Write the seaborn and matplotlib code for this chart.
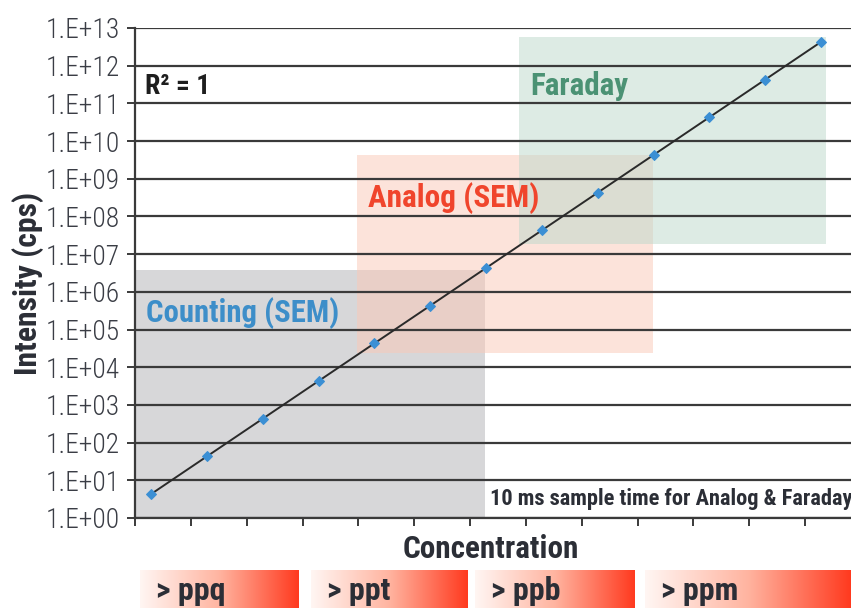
import os
import numpy as np
import pandas as pd
import matplotlib
matplotlib.use("Agg")
import matplotlib.pyplot as plt
import matplotlib.font_manager as fm
from matplotlib.font_manager import FontProperties
from matplotlib.colors import LinearSegmentedColormap
from matplotlib.patches import Rectangle
import seaborn as sns

# ---- data ----
step = list(range(13))
intensity = [4.3, 43, 430, 4.3e3, 4.3e4, 4.3e5, 4.3e6, 4.3e7, 4.3e8, 4.3e9, 4.3e10, 4.3e11, 4.3e12]
ytick_vals = [10.0 ** k for k in range(14)]
ytick_labels = ["1.E+%02d" % k for k in range(14)]
region_names = ["Counting (SEM)", "Analog (SEM)", "Faraday"]
region_x = [(-0.2865, 5.98), (3.69, 8.99), (6.59, 12.09)]
region_y = [(1.0, 3.8e6), (2.4e4, 4.3e9), (1.9e7, 5.9e12)]
range_labels = ["> ppq", "> ppt", "> ppb", "> ppm"]
range_px = [(140, 299), (311, 468), (475, 635), (645, 851)]

sns.set_theme(style="white")
plt.rcParams["font.family"] = ["DejaVu Sans"]


# ---- pick a condensed font if one is installed ----
def _find(bold):
    cands = []
    for f in fm.fontManager.ttflist:
        n = os.path.basename(f.fname).lower()
        if not ("condensed" in n or "narrow" in n):
            continue
        if "italic" in n or "oblique" in n:
            continue
        isb = "bold" in n and "semibold" not in n and "extrabold" not in n
        if bold != isb:
            continue
        score = 0
        if "roboto" in n:
            score += 3
        if "liberation" in n:
            score += 2
        if not bold and "light" in n:
            score += 1
        if not bold and ("thin" in n or "extralight" in n or "medium" in n or "semi" in n or "black" in n):
            score -= 5
        cands.append((score, f.fname))
    if cands:
        cands.sort(reverse=True)
        return FontProperties(fname=cands[0][1])
    return FontProperties(family=["Roboto", "DejaVu Sans"], weight="bold" if bold else "normal")


FP_B = _find(True)
FP_R = _find(False)
TXT = "#2b2e36"

W, H = 851, 608
fig = plt.figure(figsize=(W / 100, H / 100), dpi=100)
renderer = fig.canvas.get_renderer()


def fit_size(text, fp, target_w):
    p = fp.copy()
    p.set_size(20)
    t = fig.text(0, 0, text, fontproperties=p)
    w = t.get_window_extent(renderer).width
    t.remove()
    return 20 * target_w / w


def put(x, y, text, fp, target_w, color, **kw):
    p = fp.copy()
    p.set_size(fit_size(text, fp, target_w))
    return fig.text(x / W, 1 - y / H, text, fontproperties=p, color=color, **kw)


ax = fig.add_axes([135 / W, (H - 518) / H, (W - 135) / W, (518 - 28) / H])
ax.set_yscale("log")

fills = ["#b0b0b5", "#fbc9b6", "#bcd8cb"]
for (x0, x1), (y0, y1), c in zip(region_x, region_y, fills):
    ax.add_patch(Rectangle((x0, y0), x1 - x0, y1 - y0, facecolor=c, alpha=0.5,
                           edgecolor="none", zorder=0))

for v in ytick_vals:
    ax.axhline(v, color="#3a3a3a", lw=1.6, zorder=1)

df = pd.DataFrame({"x": step, "y": intensity})
sns.lineplot(data=df, x="x", y="y", ax=ax, color="#2a2a2a", lw=1.4, marker="D",
             markersize=5.5, markerfacecolor="#3b8fd4", markeredgecolor="#3b8fd4",
             zorder=3)

ax.set_xlim(-0.2865, 12.534)
ax.set_ylim(1, 1e13)

tick_fp = FP_R.copy()
tick_fp.set_size(fit_size("1.E+13", FP_R, 74))
ax.set_yticks(ytick_vals)
ax.set_yticklabels(ytick_labels, fontproperties=tick_fp, color="#3a3d45")
ax.minorticks_off()
ax.set_xticks([-0.2865 + k for k in range(14)])
ax.set_xticklabels([])
ax.set_xlim(-0.2865, 12.534)
ax.set_ylim(1, 1e13)
ax.tick_params(axis="y", which="major", length=6, width=1.4, color="#3a3a3a",
               pad=5, left=True)
ax.tick_params(axis="x", which="major", length=6, width=1.4, color="#3a3a3a",
               bottom=True, direction="out")
for s in ["top", "right"]:
    ax.spines[s].set_visible(False)
for s in ["left", "bottom"]:
    ax.spines[s].set_color("#3a3a3a")
    ax.spines[s].set_linewidth(1.6)
ax.set_xlabel("")
ax.set_ylabel("")

put(28, 283, "Intensity (cps)", FP_B, 183, TXT, rotation=90, ha="center", va="center")
put(491, 549, "Concentration", FP_B, 176, TXT, ha="center", va="center")
put(145, 86, "R² = 1", FP_B, 65, "#1e1e1e", ha="left", va="center")
put(146, 313, region_names[0], FP_B, 193, "#3d8ec9", ha="left", va="center")
put(368, 198, region_names[1], FP_B, 172, "#f0452c", ha="left", va="center")
put(530, 86, region_names[2], FP_B, 98, "#4b9274", ha="left", va="center")
put(490, 499, "10 ms sample time for Analog & Faraday", FP_B, 363, TXT,
    ha="left", va="center")

# gradient range boxes
bax = fig.add_axes([0, 0, 1, 38 / H])
bax.axis("off")
cmap = LinearSegmentedColormap.from_list("g", ["#fff6f3", "#ffb4a0", "#ff3a1f"])
grad = np.linspace(0, 1, 256).reshape(1, -1)
for (x0, x1), lab in zip(range_px, range_labels):
    bax.imshow(grad, extent=(x0, x1, 0, 1), aspect="auto", cmap=cmap)
    p = FP_B.copy()
    p.set_size(fit_size("> ppq", FP_B, 69))
    bax.text(x0 + 16, 0.45, lab, fontproperties=p, ha="left", va="center", color=TXT)
bax.set_xlim(0, W)
bax.set_ylim(0, 1)

fig.savefig("out.png", dpi=100)
